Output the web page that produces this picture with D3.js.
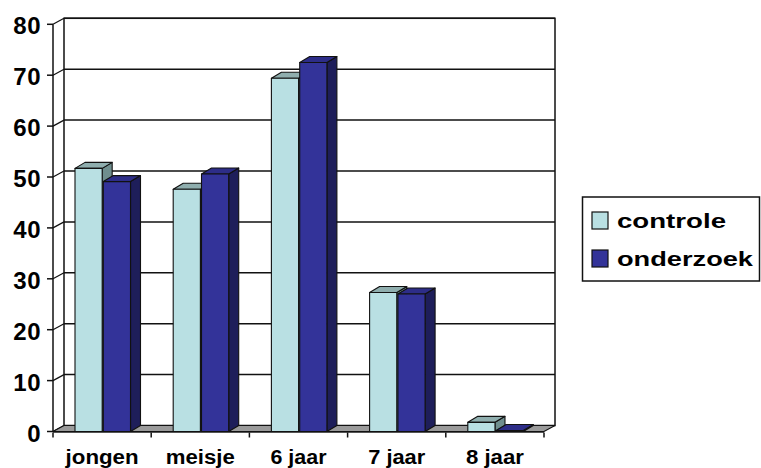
<!DOCTYPE html>
<html><head><meta charset="utf-8">
<script src="https://cdn.jsdelivr.net/npm/d3@7"></script>
<style>body{margin:0;background:#fff}svg{display:block}text{font-family:"Liberation Sans",Arial,sans-serif;font-weight:bold;fill:#000}</style>
</head><body><svg id="c" width="761" height="468"></svg>
<script>
const categories = ["jongen", "meisje", "6 jaar", "7 jaar", "8 jaar"];
const series = ["controle", "onderzoek"];
const controle = [51.7, 47.6, 69.4, 27.3, 1.8];
const onderzoek = [49.1, 50.6, 72.5, 27.0, 0.2];
const yTicks = [0, 10, 20, 30, 40, 50, 60, 70, 80];
const colors = {
  controle: {front: "#B9E0E3", top: "#8FAEAE", side: "#6F8E8E"},
  onderzoek: {front: "#333399", top: "#2D2D88", side: "#1E1E5A"}
};

const svg = d3.select("#c");
const W = {dx: 11, dy: -6};      // wall depth
const B = {dx: 10, dy: -6};      // bar depth
const y = d3.scaleLinear().domain([0, 80]).range([431.5, 24.3]);
const x0 = d3.scaleBand().domain(categories).range([53, 544]);
const x1 = d3.scaleBand().domain(series).range([22, 77.5]).paddingInner(0.04);
const xl = 53, xr = 544;
const stroke = "#111";

// back wall
const gWall = svg.append("g");
gWall.append("rect").attr("x", xl + W.dx).attr("y", y(80) + W.dy)
  .attr("width", xr - xl).attr("height", y(0) - y(80))
  .attr("fill", "#fff").attr("stroke", stroke).attr("stroke-width", 1.5);
yTicks.forEach(t => {
  if (t > 0) gWall.append("line").attr("x1", xl + W.dx).attr("x2", xr + W.dx)
    .attr("y1", y(t) + W.dy).attr("y2", y(t) + W.dy).attr("stroke", stroke).attr("stroke-width", 1.5);
  gWall.append("line").attr("x1", xl).attr("x2", xl + W.dx)
    .attr("y1", y(t)).attr("y2", y(t) + W.dy).attr("stroke", stroke).attr("stroke-width", 1.2);
});
gWall.append("line").attr("x1", xl).attr("x2", xl).attr("y1", y(80)).attr("y2", y(0))
  .attr("stroke", stroke).attr("stroke-width", 1.5);

// floor
const floorPts = [[xl, y(0)], [xr, y(0)], [xr + W.dx, y(0) + W.dy], [xl + W.dx, y(0) + W.dy]];
svg.append("polygon").attr("points", floorPts.map(p => p.join(",")).join(" "))
  .attr("fill", "#9a9a9a").attr("stroke", stroke).attr("stroke-width", 1.2);
svg.append("line").attr("x1", xl).attr("x2", xr).attr("y1", y(0) + 1).attr("y2", y(0) + 1)
  .attr("stroke", "#555").attr("stroke-width", 1.2);

// y ticks + labels
const gy = svg.append("g");
yTicks.forEach(t => {
  gy.append("line").attr("x1", xl - 6).attr("x2", xl).attr("y1", y(t)).attr("y2", y(t))
    .attr("stroke", stroke).attr("stroke-width", 1.5);
  gy.append("text").attr("x", 41).attr("y", y(t) + 1.5).attr("dy", "0.36em")
    .attr("text-anchor", "end").attr("font-size", 24).attr("letter-spacing", 0.5).text(t);
});

// x ticks + labels
const gx = svg.append("g");
categories.forEach(c => {
  gx.append("line").attr("x1", x0(c)).attr("x2", x0(c)).attr("y1", y(0) + 1).attr("y2", y(0) + 6)
    .attr("stroke", stroke).attr("stroke-width", 1.5);
});
gx.append("line").attr("x1", xr).attr("x2", xr).attr("y1", y(0) + 1).attr("y2", y(0) + 6)
  .attr("stroke", stroke).attr("stroke-width", 1.5);
const labW = {"jongen": 73, "meisje": 69, "6 jaar": 56, "7 jaar": 57, "8 jaar": 58};
categories.forEach(c => {
  gx.append("text").attr("x", x0(c) + x0.bandwidth() / 2 - labW[c] / 2).attr("y", 464)
    .attr("font-size", 20).attr("textLength", labW[c]).attr("lengthAdjust", "spacingAndGlyphs").text(c);
});

// bars
const data = {controle, onderzoek};
const gb = svg.append("g");
categories.forEach((c, i) => {
  series.forEach(s => {
    const v = data[s][i];
    const xa = x0(c) + x1(s), w = x1.bandwidth();
    const yt = y(v), yb = y(0);
    const col = colors[s];
    const g = gb.append("g").attr("stroke", stroke).attr("stroke-width", 1.1).attr("stroke-linejoin", "round");
    g.append("polygon").attr("points", [[xa + w, yb], [xa + w + B.dx, yb + B.dy], [xa + w + B.dx, yt + B.dy], [xa + w, yt]].map(p => p.join(",")).join(" "))
      .attr("fill", col.side);
    g.append("polygon").attr("points", [[xa, yt], [xa + B.dx, yt + B.dy], [xa + w + B.dx, yt + B.dy], [xa + w, yt]].map(p => p.join(",")).join(" "))
      .attr("fill", col.top);
    g.append("rect").attr("x", xa).attr("y", yt).attr("width", w).attr("height", yb - yt).attr("fill", col.front);
  });
});

// legend
const lg = svg.append("g");
lg.append("rect").attr("x", 582.5).attr("y", 197).attr("width", 177).attr("height", 84)
  .attr("fill", "#fff").attr("stroke", stroke).attr("stroke-width", 1.5);
const legW = {controle: 109, onderzoek: 136};
series.forEach((s, i) => {
  const yy = 212 + i * 38;
  lg.append("rect").attr("x", 592).attr("y", yy).attr("width", 16).attr("height", 17)
    .attr("fill", colors[s].front).attr("stroke", stroke).attr("stroke-width", 1.2);
  lg.append("text").attr("x", 617).attr("y", yy + 15.5).attr("font-size", 21)
    .attr("textLength", legW[s]).attr("lengthAdjust", "spacingAndGlyphs").text(s);
});
</script></body></html>
